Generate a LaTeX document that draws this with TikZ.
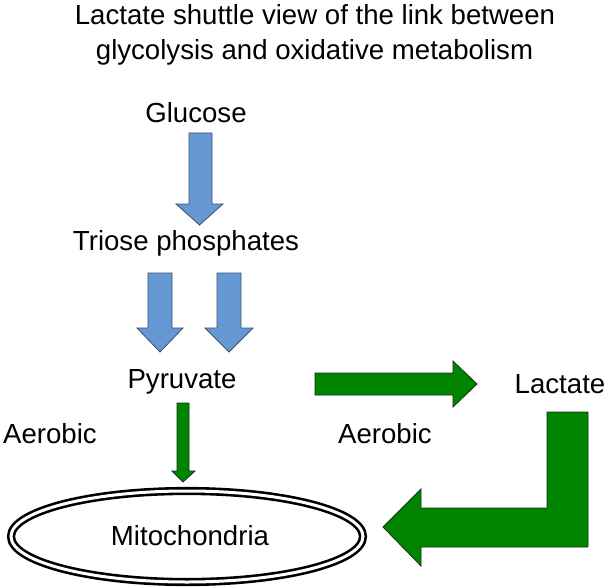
\documentclass[tikz,border=0pt]{standalone}
\usepackage{fontspec}
\setmainfont{Liberation Sans}
\definecolor{bluefill}{RGB}{102,153,211}
\definecolor{blueline}{RGB}{60,80,110}
\definecolor{greenfill}{RGB}{0,133,0}
\definecolor{greenline}{RGB}{20,50,20}
\begin{document}
\begin{tikzpicture}[x=1pt,y=-1pt,
  lbl/.style={inner sep=0pt,anchor=base,font=\fontsize{27.6}{33}\selectfont},
  bluearrow/.style={fill=bluefill,draw=blueline,line width=0.8pt,line join=miter},
  greenarrow/.style={fill=greenfill,draw=greenline,line width=0.8pt,line join=miter},
  mito/.style={draw=black,double=white,line width=2.6pt,double distance=3pt}]
\useasboundingbox (0,0) rectangle (607,588);
% title
\node[lbl] (t1) at (315,25) {Lactate shuttle view of the link between};
\node[lbl] (t2) at (314.5,60) {glycolysis and oxidative metabolism};
% labels
\node[lbl] (glu) at (196,123) {Glucose};
\node[lbl] (tri) at (186,250) {Triose phosphates};
\node[lbl] (pyr) at (182,388) {Pyruvate};
\node[lbl] (lac) at (560,393) {Lactate};
\node[lbl,anchor=base west] (aer1) at (3,443) {Aerobic};
\node[lbl,anchor=base west] (aer2) at (338,443) {Aerobic};
% mitochondria
\draw[mito] (187,536.5) ellipse [x radius=176, y radius=45.5];
\node[lbl] (mit) at (190,545) {Mitochondria};
% blue arrows
\draw[bluearrow] (189,133) -- (212,133) -- (212,204) -- (223,204) -- (199.5,225) -- (176,204) -- (189,204) -- cycle;
\draw[bluearrow] (148,273) -- (172,273) -- (172,328) -- (183,328) -- (160,352) -- (137,328) -- (148,328) -- cycle;
\draw[bluearrow] (217,273) -- (241,273) -- (241,328) -- (253,328) -- (229,352) -- (205,328) -- (217,328) -- cycle;
% green arrows
\draw[greenarrow] (177,403) -- (189,403) -- (189,471) -- (195,471) -- (183,482) -- (172,471) -- (177,471) -- cycle;
\draw[greenarrow] (315,373) -- (453,373) -- (453,361) -- (477,384) -- (453,407) -- (453,395) -- (315,395) -- cycle;
\draw[greenarrow] (588,412) -- (588,547) -- (421,547) -- (421,566) -- (383,527) -- (421,489) -- (421,508) -- (547,508) -- (547,412) -- cycle;
\end{tikzpicture}
\end{document}
